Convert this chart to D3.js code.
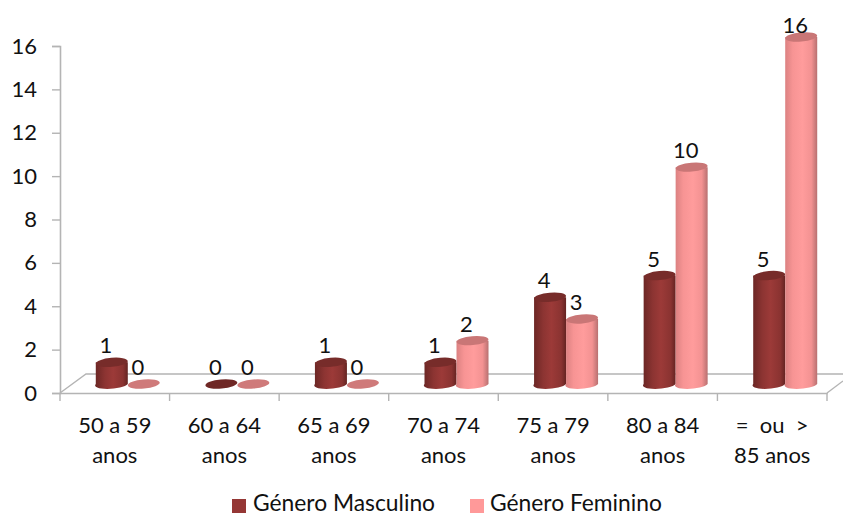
<!DOCTYPE html>
<html lang="pt">
<head>
<meta charset="utf-8">
<script src="https://cdn.jsdelivr.net/npm/d3@7"></script>
<style>
html,body{margin:0;padding:0;background:#fff}
svg{display:block}
text{font-family:Lato,"Open Sans",sans-serif;fill:#111;white-space:pre}
</style>
</head>
<body>
<svg id="chart" width="843" height="516"></svg>
<script>
const categories = [["50 a 59","anos"],["60 a 64","anos"],["65 a 69","anos"],["70 a 74","anos"],["75 a 79","anos"],["80 a 84","anos"],["=  ou  >","85 anos"]];
const masculino = [1,0,1,1,4,5,5];
const feminino = [0,0,0,2,3,10,16];
const yTicks = [0,2,4,6,8,10,12,14,16];
const seriesNames = ["Género Masculino","Género Feminino"];
const seriesColors = ["#953735","#ff9999"];

const svg = d3.select("#chart");
const axisGrey = "#b4b4b4";
const x = d3.scaleBand().domain(d3.range(categories.length)).range([60,827]);
const y = d3.scaleLinear().domain([0,16]).range([393,46]);
const inner = d3.scaleBand().domain([0,1]).range([0,64]);
const depth = {floorX:26, floorY:19, shiftX:13, baseLift:9, rx:16, ry:4.5, tilt:-5};

// cylinder shading: dark edges, lighter centre
const defs = svg.append("defs");
const shades = [
  {id:"cyl0", stops:[["0%","#6a2624"],["30%","#8c3432"],["55%","#9c3a38"],["85%","#8a3331"],["100%","#642422"]], cap:"#772c2a"},
  {id:"cyl1", stops:[["0%","#d98080"],["25%","#f79494"],["55%","#ff9c9c"],["82%","#f39292"],["100%","#b87070"]], cap:"#c97676"}
];
shades.forEach(s => {
  const g = defs.append("linearGradient").attr("id",s.id);
  s.stops.forEach(d => g.append("stop").attr("offset",d[0]).attr("stop-color",d[1]));
});

// 3D floor outline
const floor = svg.append("g").attr("fill","none").attr("stroke",axisGrey).attr("stroke-width",1.4);
floor.append("path").attr("d",d3.line()([[x.range()[0],y(0)],[x.range()[0]+depth.floorX,y(0)-depth.floorY],[843,y(0)-depth.floorY]]));
floor.append("path").attr("d",d3.line()([[x.range()[1],y(0)],[843,y(0)-12]]));

// value axis
const yAxis = svg.append("g").attr("transform",`translate(${x.range()[0]},0)`)
  .call(d3.axisLeft(y).tickValues(yTicks).tickSize(8).tickPadding(15).tickFormat(d3.format("d")));
// category axis
const xAxis = svg.append("g").attr("transform",`translate(0,${y(0)})`)
  .call(d3.axisBottom(x).tickValues([]).tickSize(0));
xAxis.selectAll("line.edge").data(d3.range(categories.length+1)).join("line").attr("class","edge")
  .attr("x1",i=>x.range()[0]+i*x.step()).attr("x2",i=>x.range()[0]+i*x.step())
  .attr("y1",0).attr("y2",8).attr("stroke",axisGrey).attr("stroke-width",1.4);
[yAxis,xAxis].forEach(a => {
  a.selectAll(".domain").attr("stroke",axisGrey).attr("stroke-width",1.6);
  a.selectAll(".tick line").attr("stroke",axisGrey).attr("stroke-width",1.4);
});
yAxis.selectAll("text").attr("font-size",22).style("font-family","Lato,sans-serif").attr("fill","#111");

// category labels
svg.append("g").selectAll("text").data(categories).join("text")
  .attr("text-anchor","middle").attr("font-size",22)
  .attr("x",(d,i)=>x(i)+x.bandwidth()/2).attr("y",433)
  .selectAll("tspan").data(d=>d).join("tspan")
  .attr("x",function(){return d3.select(this.parentNode).attr("x");})
  .attr("dy",(d,i)=>i?30:0).text(d=>d);

// cylinders
const rows = [];
categories.forEach((c,i)=>{
  rows.push({i,s:0,v:masculino[i]});
  rows.push({i,s:1,v:feminino[i]});
});
const cx = d => x(d.i)+x.bandwidth()/2+depth.shiftX-32+inner(d.s)+inner.bandwidth()/2;
const topY = d => y(d.v)-depth.baseLift;
const baseY = () => y(0)-depth.baseLift;
const cap = (sel,px,py,fill) => sel.append("ellipse").attr("rx",depth.rx).attr("ry",depth.ry)
  .attr("transform",d=>`translate(${px(d)},${py(d)}) rotate(${depth.tilt})`).attr("fill",fill);

const bars = svg.append("g").selectAll("g").data(rows).join("g");
bars.filter(d=>d.v>0).each(function(d){
  const g = d3.select(this), c = cx(d), r = depth.rx;
  g.append("path")
    .attr("d",`M${c-r},${topY(d)} L${c-r},${baseY()} A${r},${depth.ry} ${depth.tilt} 0 0 ${c+r},${baseY()} L${c+r},${topY(d)} Z`)
    .attr("fill",`url(#cyl${d.s})`);
});
cap(bars,cx,topY,d=>d.v>0?shades[d.s].cap:(d.s?"#cf7a7a":"#6f2725"));

// data labels
svg.append("g").selectAll("text").data(rows).join("text")
  .attr("text-anchor","middle").attr("font-size",22)
  .attr("x",d=>cx(d)-6)
  .attr("y",d=>topY(d)-(d.v===16?4:9))
  .text(d=>d.v);

// legend
const legend = svg.append("g");
const legendItems = [{x:232,tx:253},{x:470,tx:490}];
seriesNames.forEach((name,i)=>{
  legend.append("rect").attr("x",legendItems[i].x).attr("y",499).attr("width",14).attr("height",14).attr("fill",seriesColors[i]);
  legend.append("text").attr("x",legendItems[i].tx).attr("y",511).attr("font-size",22.8).text(name);
});
</script>
</body>
</html>
